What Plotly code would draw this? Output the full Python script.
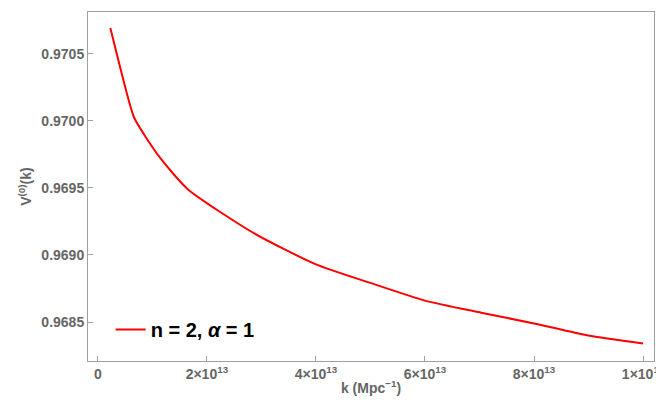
import plotly.graph_objects as go

k = [0.23e13, 0.49e13, 0.67e13, 1.13e13, 1.65e13, 2.87e13, 4e13, 5.01e13, 6e13, 7.03e13, 8e13, 8.99e13, 1e14]
V = [0.97069, 0.97027, 0.97002, 0.96973, 0.96949, 0.96916, 0.96893, 0.96879, 0.96866, 0.96857, 0.96849, 0.96840, 0.96834]
xticks = [0, 2e13, 4e13, 6e13, 8e13, 1e14]
xticktext = ["0", "2×10<sup>13</sup>", "4×10<sup>13</sup>", "6×10<sup>13</sup>", "8×10<sup>13</sup>", "1×10<sup>14</sup>"]
yticks = [0.9685, 0.9690, 0.9695, 0.9700, 0.9705]

fig = go.Figure(go.Scatter(x=k, y=V, mode="lines", line=dict(color="#ff0000", width=2, shape="spline", smoothing=0.6),
                           name="<b>n = 2, <i>α</i> = 1</b>"))
ax = dict(showgrid=False, zeroline=False, showline=True, mirror=True, linecolor="#a0a0a0", linewidth=1,
          ticks="inside", tickcolor="#a0a0a0", ticklen=5,
          tickfont=dict(family="Liberation Sans", size=14, color="#666666"))
fig.update_layout(
    width=664, height=403, plot_bgcolor="white", paper_bgcolor="white",
    margin=dict(l=80, r=18, t=4, b=50),
    xaxis=dict(ax, range=[-0.18e13, 10.2e13], tickvals=xticks, ticktext=["<b>%s</b>" % t for t in xticktext],
               title=dict(text="<b>k (Mpc<sup>−1</sup>)</b>", standoff=2,
                          font=dict(family="Liberation Sans", size=14, color="#666666"))),
    yaxis=dict(ax, range=[0.96821, 0.97081], tickvals=yticks, ticktext=["<b>%.4f</b>" % t for t in yticks],
               title=dict(text="<b>V<sup>(0)</sup>(k)</b>", standoff=6,
                          font=dict(family="Liberation Sans", size=14, color="#666666"))),
    showlegend=True,
    legend=dict(x=0.04, y=0.09, xanchor="left", yanchor="middle", bgcolor="rgba(0,0,0,0)",
                font=dict(family="Liberation Sans", size=20, color="black")),
)
fig.write_html("out.html")
